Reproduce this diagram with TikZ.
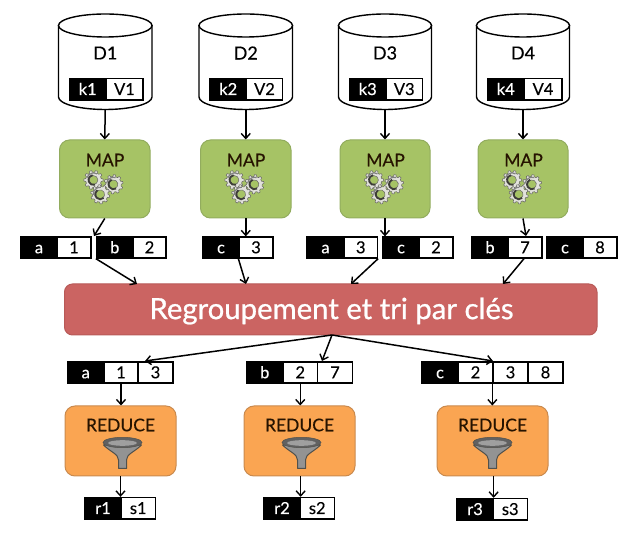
\documentclass[tikz,border=0pt]{standalone}
\usepackage{fontspec}
\setmainfont{Lato}[FakeBold=0.35]
\newfontfamily\titlefont{Lato}[FakeBold=0.8]
\usetikzlibrary{arrows.meta,calc}
\definecolor{mapfill}{HTML}{A6C365}
\definecolor{mapline}{HTML}{92AC5E}
\definecolor{redfill}{HTML}{CB6462}
\definecolor{redline}{HTML}{B85A58}
\definecolor{orfill}{HTML}{FAA552}
\definecolor{orline}{HTML}{C98A4E}
\definecolor{gearlight}{HTML}{E2E2DC}
\definecolor{geardark}{HTML}{3E3E38}
\tikzset{
  arr/.style={draw=black,line width=1.5pt,-{Straight Barb[length=5pt,width=9pt,line width=1.4pt]}},
  keycell/.style={fill=black,draw=black,line width=1.3pt,text=white,inner sep=0pt,text height=11.5pt,text depth=0pt,font=\fontsize{16.5}{18}\selectfont},
  valcell/.style={fill=white,draw=black,line width=1.3pt,text=black,inner sep=0pt,text height=11.5pt,text depth=0pt,font=\fontsize{16.5}{18}\selectfont},
  dbbody/.style={fill=white,draw=black,line width=1.4pt},
  dblabel/.style={inner sep=0pt,font=\fontsize{18}{20}\selectfont},
  mapbox/.style={fill=mapfill,draw=mapline,line width=1pt,rounded corners=10pt,inner sep=0pt},
  redbox/.style={fill=redfill,draw=redline,line width=1pt,rounded corners=8pt,inner sep=0pt},
  redubox/.style={fill=orfill,draw=orline,line width=1pt,rounded corners=10pt,inner sep=0pt},
  boxlabel/.style={inner sep=0pt,text=black!85!orange,font=\fontsize{17.5}{20}\selectfont},
}
% cell: style, name, x0, x1, y0, y1, text
\newcommand\rcell[7]{%
  \pgfmathsetmacro\cw{#4-#3}\pgfmathsetmacro\ch{#6-#5}%
  \node[#1,minimum width=\cw pt,minimum height=\ch pt,anchor=center] (#2) at ({(#3+#4)/2},{(#5+#6)/2}) {#7};}
% cylinder: name, x0, x1, label
\newcommand\dbcyl[4]{%
  \pgfmathsetmacro\cx{(#2+#3)/2}\pgfmathsetmacro\rx{(#3-#2)/2}%
  \path[dbbody] (#2,25.5) -- (#2,97) arc[start angle=180,end angle=0,x radius=\rx,y radius=12.5] -- (#3,25.5) -- cycle;
  \path[dbbody] (\cx,25.5) ellipse[x radius=\rx,y radius=11.5];
  \node[dblabel] (#1) at (\cx,53) {#4};
  \coordinate (#1b) at (\cx,109.5);}
% one gear
\newcommand\gearshape[3]{%
  \begin{scope}[shift={(#1,#2)},rotate=#3]
    \fill[gearlight,draw=geardark!80,line width=.5pt,even odd rule]
      (0:9.6)
      \foreach \a in {0,36,...,324}{
        -- (\a+6:9.6) -- (\a+11:7.8) -- (\a+25:7.8) -- (\a+30:9.6)
      } -- cycle
      (0,0) circle (4.4);
    \draw[geardark,line width=1.8pt] (70:5) arc[start angle=70,end angle=260,radius=5];
    \draw[gray,line width=1.2pt] (200:7) arc[start angle=200,end angle=300,radius=7];
  \end{scope}}
\newcommand\gears[1]{%
  \gearshape{#1-11.5}{180}{0}\gearshape{#1+8.5}{184.3}{12}\gearshape{#1-4.8}{194.3}{24}}
% funnel
\newcommand\funnel[1]{%
  \begin{scope}[shift={(#1,0)}]
    \fill[gray!85,draw=geardark!90,line width=1pt,line join=round]
      (-19,445) .. controls (-12,452) and (-4,454) .. (-4,460) -- (-4,468.5) -- (4,468.5) -- (4,460) .. controls (4,454) and (12,452) .. (19,445) -- cycle;
    \fill[black!62,draw=geardark!90,line width=.5pt] (0,442.5) ellipse[x radius=19.5,y radius=5.2];
    \fill[gray!75] (0,443) ellipse[x radius=14.5,y radius=2.8];
  \end{scope}}
\begin{document}
\begin{tikzpicture}[x=1pt,y=-1pt]
\useasboundingbox (0,0) rectangle (630,545);
% databases
\dbcyl{d1}{58.5}{152}{D1}
\dbcyl{d2}{199}{292.5}{D2}
\dbcyl{d3}{338.5}{431.5}{D3}
\dbcyl{d4}{476.5}{569.5}{D4}
\rcell{keycell}{k1}{69.5}{106}{78.5}{100}{k1}\rcell{valcell}{v1}{106}{143}{78.5}{100}{V1}
\rcell{keycell}{k2}{210}{246.5}{78.5}{100}{k2}\rcell{valcell}{v2}{246.5}{282.5}{78.5}{100}{V2}
\rcell{keycell}{k3}{349.5}{386}{78.5}{100}{k3}\rcell{valcell}{v3}{386}{422.5}{78.5}{100}{V3}
\rcell{keycell}{k4}{487.5}{524}{78.5}{100}{k4}\rcell{valcell}{v4}{524}{562}{78.5}{100}{V4}
% map boxes
\rcell{mapbox}{m1}{59.5}{150}{140}{218}{}
\rcell{mapbox}{m2}{200.5}{291}{140}{218}{}
\rcell{mapbox}{m3}{340}{430}{140}{218}{}
\rcell{mapbox}{m4}{478}{568}{140}{218}{}
\node[boxlabel] (ml1) at (105,160) {MAP};
\node[boxlabel] (ml2) at (246,160) {MAP};
\node[boxlabel] (ml3) at (385.5,160) {MAP};
\node[boxlabel] (ml4) at (523.5,160) {MAP};
\gears{105}\gears{246}\gears{385.5}\gears{523.5}
% intermediate pairs
\rcell{keycell}{ak1}{21}{57}{237}{258}{a}\rcell{valcell}{av1}{57}{91}{237}{258}{1}
\rcell{keycell}{bk1}{96.5}{133}{237}{258}{b}\rcell{valcell}{bv1}{133}{166}{237}{258}{2}
\rcell{keycell}{ck1}{203}{239}{237}{258}{c}\rcell{valcell}{cv1}{239}{273}{237}{258}{3}
\rcell{keycell}{ak2}{307}{344}{237}{258}{a}\rcell{valcell}{av2}{344}{377.5}{237}{258}{3}
\rcell{keycell}{ck2}{383}{419}{237}{258}{c}\rcell{valcell}{cv2}{419}{453}{237}{258}{2}
\rcell{keycell}{bk2}{472}{508}{237}{258}{b}\rcell{valcell}{bv2}{508}{542}{237}{258}{7}
\rcell{keycell}{ck3}{547}{583}{237}{258}{c}\rcell{valcell}{cv3}{583}{617}{237}{258}{8}
% grouping bar
\rcell{redbox}{grp}{64.5}{597}{284}{335}{}
\node[inner sep=0pt,text=white,font=\titlefont\fontsize{29.3}{32}\selectfont] (grpl) at (331.5,311) {Regroupement et tri par clés};
% grouped records
\rcell{keycell}{ra}{67.5}{104}{362}{383}{a}\rcell{valcell}{ra1}{104}{138}{362}{383}{1}\rcell{valcell}{ra2}{138}{173}{362}{383}{3}
\rcell{keycell}{rb}{246.5}{283}{362}{383}{b}\rcell{valcell}{rb1}{283}{317.5}{362}{383}{2}\rcell{valcell}{rb2}{317.5}{352.5}{362}{383}{7}
\rcell{keycell}{rc}{422}{458}{362}{383}{c}\rcell{valcell}{rc1}{458}{493}{362}{383}{2}\rcell{valcell}{rc2}{493}{528}{362}{383}{3}\rcell{valcell}{rc3}{528}{563}{362}{383}{8}
% reduce boxes
\rcell{redubox}{r1}{65}{176}{406}{476}{}
\rcell{redubox}{r2}{244}{355}{406}{476}{}
\rcell{redubox}{r3}{437}{548}{406}{476}{}
\node[boxlabel] (rl1) at (120.5,425) {REDUCE};
\node[boxlabel] (rl2) at (299.5,425) {REDUCE};
\node[boxlabel] (rl3) at (492.5,425) {REDUCE};
\funnel{122.5}\funnel{301.5}\funnel{492.5}
% results
\rcell{keycell}{o1}{85}{121}{497.5}{519}{r1}\rcell{valcell}{s1}{121}{155.5}{497.5}{519}{s1}
\rcell{keycell}{o2}{264}{300}{497.5}{519}{r2}\rcell{valcell}{s2}{300}{334.5}{497.5}{519}{s2}
\rcell{keycell}{o3}{457}{493}{498.5}{520}{r3}\rcell{valcell}{s3}{493}{527.5}{498.5}{520}{s3}
% free connector ends
\coordinate (e1) at (94,236);
\coordinate (e2) at (526,236);
\coordinate (g1) at (137,284);
\coordinate (g2) at (246,284);
\coordinate (g3) at (351,284);
\coordinate (g4) at (503,284);
\coordinate (hub) at (332,335);
\coordinate (t1) at (145,361);
\coordinate (t2) at (322,361);
\coordinate (t3) at (493,361);
% connectors
\draw[arr] (d1b) -- (m1.north);
\draw[arr] (d2b) -- (m2.north);
\draw[arr] (d3b) -- (m3.north);
\draw[arr] (d4b) -- (m4.north);
\draw[arr] (m1.south) -- (e1);
\draw[arr] (m2.south) -- (m2.south |- cv1.north);
\draw[arr] (m3.south) -- (m3.south |- cv2.north);
\draw[arr] (m4.south) -- (e2);
\draw[arr] (bk1.south west) -- (g1);
\draw[arr] (cv1.south west) -- (g2);
\draw[arr] (av2.south east) -- (g3);
\draw[arr] (bv2.south) ++(-1,0) -- (g4);
\draw[arr] (hub) -- (t1);
\draw[arr] (hub) -- (t2);
\draw[arr] (hub) -- (t3);
\draw[arr] (ra1.south) -- (ra1.south |- r1.north);
\draw[arr] (rb1.south) -- (rb1.south |- r2.north);
\draw[arr] (rc2.south west) -- (rc2.south west |- r3.north);
\draw[arr] (r1.south) -- (r1.south |- o1.north);
\draw[arr] (o2.north east |- r2.south) -- (o2.north east);
\draw[arr] (o3.north east |- r3.south) -- (o3.north east);
\end{tikzpicture}
\end{document}
